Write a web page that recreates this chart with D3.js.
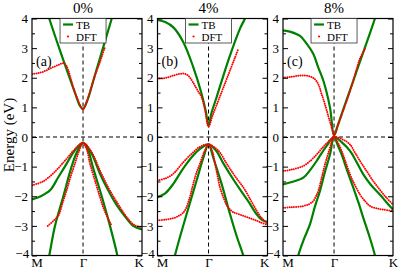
<!DOCTYPE html>
<html><head><meta charset="utf-8">
<script src="https://cdn.jsdelivr.net/npm/d3@7"></script>
<style>body{margin:0;background:#fff}svg{display:block}</style>
</head><body><svg id="c" width="399" height="269"></svg>
<script>
// path coordinate: M=0, Gamma=0.464, K=1 ; energies in eV
const kTicks = [0, 0.464, 1];
const kLabels = ["M", "\u0393", "K"];
const yTicks = [-4, -3, -2, -1, 0, 1, 2, 3, 4];
const titles = ["0%", "4%", "8%"];
const panelTags = ["(a)", "(b)", "(c)"];

// ---- panel (a) 0% ----
const tbA_c = [[0.13,4.35],[0.157,4],[0.247,3],[0.341,2],[0.39,1.5],[0.436,1.05],[0.464,0.95],[0.5,1.2],[0.565,2],[0.645,3],[0.725,4],[0.75,4.3]];
const tbA_v1 = [[0,-2.11],[0.08,-2.0],[0.164,-1.8],[0.24,-1.35],[0.315,-0.9],[0.39,-0.45],[0.464,-0.2],[0.54,-0.55],[0.618,-1.24],[0.7,-1.85],[0.77,-2.3],[0.85,-2.7],[0.92,-3.0],[1,-3.12]];
const tbA_v2 = [[0.14,-4.3],[0.157,-4],[0.209,-3],[0.285,-2],[0.36,-1],[0.41,-0.5],[0.464,-0.2],[0.51,-0.45],[0.552,-1],[0.634,-2],[0.709,-3],[0.776,-4],[0.79,-4.3]];
const dftA_c = [[0,2.13],[0.05,2.15],[0.1,2.2],[0.15,2.28],[0.2,2.37],[0.25,2.45],[0.285,2.49],[0.31,2.42],[0.33,2.25],[0.35,2.0],[0.38,1.62],[0.41,1.32],[0.44,1.05],[0.464,0.93],[0.49,1.12],[0.52,1.45],[0.55,1.8],[0.58,2.15],[0.61,2.45],[0.635,2.72],[0.66,3.0]];
const dftA_v1 = [[0,-1.63],[0.1,-1.5],[0.2,-1.2],[0.3,-0.8],[0.38,-0.45],[0.464,-0.2],[0.54,-0.5],[0.62,-1.15],[0.7,-1.75],[0.78,-2.25],[0.86,-2.7],[0.93,-2.97],[1,-3.05]];
const dftA_v2 = [[0.143,-3.0],[0.19,-2.85],[0.24,-2.65],[0.28,-2.2],[0.315,-1.8],[0.35,-1.35],[0.39,-0.9],[0.43,-0.45],[0.464,-0.2],[0.5,-0.45],[0.527,-0.9],[0.575,-1.5],[0.618,-2.03],[0.65,-2.4],[0.679,-2.65],[0.725,-3.0]];

// ---- panel (b) 4% ----
const tbB_c = [[0,3.95],[0.07,3.88],[0.144,3.7],[0.235,3.2],[0.325,2.36],[0.4,1.47],[0.44,0.85],[0.464,0.38],[0.49,0.8],[0.538,1.35],[0.644,2.59],[0.75,3.66],[0.795,4],[0.82,4.3]];
const tbB_v1 = [[0,-2.03],[0.07,-1.9],[0.144,-1.58],[0.2,-1.25],[0.265,-0.9],[0.33,-0.6],[0.386,-0.4],[0.464,-0.25],[0.53,-0.45],[0.6,-0.9],[0.675,-1.35],[0.75,-1.77],[0.83,-2.2],[0.9,-2.6],[0.95,-2.8],[1,-2.87]];
const tbB_v2 = [[0.145,-4.3],[0.159,-4],[0.21,-3.3],[0.265,-2.6],[0.356,-1.46],[0.417,-0.7],[0.464,-0.25],[0.507,-0.7],[0.584,-1.6],[0.659,-2.6],[0.72,-3.35],[0.78,-4],[0.8,-4.3]];
const dftB_c = [[0,1.97],[0.05,1.98],[0.1,2.02],[0.15,2.08],[0.2,2.13],[0.235,2.14],[0.27,2.1],[0.3,1.98],[0.33,1.8],[0.36,1.6],[0.4,1.35],[0.43,0.95],[0.464,0.35],[0.5,0.72],[0.55,1.2],[0.6,1.68],[0.65,2.16],[0.7,2.64],[0.735,2.98]];
const dftB_v1 = [[0,-1.46],[0.07,-1.4],[0.144,-1.24],[0.2,-1.0],[0.265,-0.73],[0.33,-0.5],[0.386,-0.33],[0.464,-0.25],[0.55,-0.45],[0.629,-0.9],[0.7,-1.3],[0.78,-1.7],[0.85,-2.15],[0.9,-2.48],[0.95,-2.75],[1,-2.92]];
const dftB_v2 = [[0,-2.81],[0.07,-2.79],[0.144,-2.74],[0.2,-2.65],[0.235,-2.55],[0.26,-2.4],[0.28,-2.2],[0.3,-1.95],[0.325,-1.58],[0.355,-1.2],[0.386,-0.9],[0.425,-0.5],[0.464,-0.25],[0.5,-0.5],[0.523,-0.9],[0.545,-1.3],[0.568,-1.7],[0.6,-2.05],[0.629,-2.3],[0.66,-2.45],[0.689,-2.54],[0.75,-2.62],[0.81,-2.7],[0.87,-2.78],[0.93,-2.87],[1,-2.97]];

// ---- panel (c) 8% ----
const tbC_c = [[0,3.6],[0.07,3.55],[0.155,3.41],[0.215,3.15],[0.276,2.8],[0.32,2.35],[0.367,1.9],[0.427,1.0],[0.464,0.05],[0.5,0.42],[0.564,1.1],[0.67,2.23],[0.79,3.5],[0.836,4],[0.86,4.25]];
const tbC_v1 = [[0,-1.6],[0.08,-1.52],[0.185,-1.37],[0.25,-1.1],[0.306,-0.81],[0.35,-0.55],[0.397,-0.3],[0.464,0],[0.54,-0.2],[0.609,-0.47],[0.67,-0.85],[0.73,-1.26],[0.8,-1.62],[0.88,-1.94],[0.94,-2.2],[1,-2.45]];
const tbC_v2 = [[0.125,-4.3],[0.139,-4],[0.19,-3.45],[0.245,-2.95],[0.29,-2.35],[0.336,-1.82],[0.38,-1.2],[0.427,-0.59],[0.464,0],[0.5,-0.3],[0.533,-0.59],[0.585,-1.15],[0.639,-1.71],[0.685,-2.2],[0.73,-2.73],[0.785,-3.35],[0.836,-4],[0.85,-4.3]];
const dftC_c = [[0,2.0],[0.07,2.03],[0.13,2.06],[0.185,2.08],[0.24,2.05],[0.28,1.98],[0.306,1.88],[0.33,1.7],[0.35,1.46],[0.375,1.18],[0.397,0.9],[0.42,0.6],[0.442,0.33],[0.464,0.05],[0.5,0.4],[0.548,0.9],[0.6,1.45],[0.639,1.9],[0.67,2.3],[0.7,2.65],[0.745,2.98]];
const dftC_v1 = [[0,-1.15],[0.08,-1.1],[0.185,-0.98],[0.25,-0.8],[0.306,-0.59],[0.35,-0.4],[0.4,-0.2],[0.464,0],[0.54,-0.08],[0.609,-0.25],[0.65,-0.5],[0.7,-0.81],[0.76,-1.15],[0.82,-1.49],[0.88,-1.78],[0.94,-2.05],[1,-2.28]];
const dftC_v2 = [[0,-2.39],[0.08,-2.37],[0.185,-2.33],[0.24,-2.26],[0.276,-2.16],[0.3,-2.0],[0.321,-1.82],[0.35,-1.4],[0.382,-0.92],[0.42,-0.45],[0.464,0],[0.5,-0.2],[0.533,-0.47],[0.57,-0.85],[0.609,-1.26],[0.65,-1.6],[0.7,-1.94],[0.75,-2.18],[0.79,-2.33],[0.85,-2.41],[0.91,-2.45],[1,-2.5]];

const panels = [
  {tb:[tbA_c,tbA_v1,tbA_v2], dft:[dftA_c,dftA_v1,dftA_v2]},
  {tb:[tbB_c,tbB_v1,tbB_v2], dft:[dftB_c,dftB_v1,dftB_v2]},
  {tb:[tbC_c,tbC_v1,tbC_v2], dft:[dftC_c,dftC_v1,dftC_v2]}
];

const svg = d3.select("#c");
const FONT = "Liberation Serif";
const lefts = [32, 157.5, 283], pw = 110, yTop = 18.5, yBot = 255.5;
const GREEN = "#008000", RED = "#ff0000";
const y = d3.scaleLinear().domain([-4, 4]).range([yBot, yTop]);

svg.append("text").attr("transform", `translate(14,${(yTop+yBot)/2 - 2}) rotate(-90)`)
  .attr("text-anchor","middle").attr("font-size",15).attr("font-family", FONT).text("Energy (eV)");

panels.forEach((p, i) => {
  const L = lefts[i];
  const x = d3.scaleLinear().domain([0, 1]).range([L, L + pw]);
  const g = svg.append("g");
  const cid = "clip" + i;
  svg.append("clipPath").attr("id", cid).append("rect").attr("x", L).attr("y", yTop).attr("width", pw).attr("height", yBot - yTop);
  const line = d3.line().x(d => x(d[0])).y(d => y(d[1])).curve(d3.curveCatmullRom.alpha(0.5));
  g.append("line").attr("x1", L).attr("x2", L + pw).attr("y1", y(0)).attr("y2", y(0))
    .attr("stroke", "#000").attr("stroke-dasharray", "4,3");
  g.append("line").attr("x1", x(kTicks[1])).attr("x2", x(kTicks[1])).attr("y1", yTop).attr("y2", yBot)
    .attr("stroke", "#000").attr("stroke-dasharray", "4,3");
  const data = g.append("g").attr("clip-path", `url(#${cid})`);
  p.tb.forEach(b => data.append("path").attr("d", line(b)).attr("fill", "none").attr("stroke", GREEN).attr("stroke-width", 2.2));
  p.dft.forEach(b => data.append("path").attr("d", line(b)).attr("fill", "none").attr("stroke", RED)
    .attr("stroke-width", 2).attr("stroke-linecap", "round").attr("stroke-dasharray", "0,2.2"));
  const ax = g.append("g").attr("transform", `translate(${L},0)`)
    .call(d3.axisLeft(y).tickValues(yTicks).tickSize(-5).tickPadding(4).tickFormat(d3.format("d")));
  ax.select(".domain").remove();
  ax.selectAll("text").attr("font-size", 13).attr("font-family", FONT).attr("fill", "#000")
    .attr("dy", d => d === -4 ? "0.15em" : "0.32em").attr("dx", d => d === -4 ? 1.2 : 0);
  const axm = g.append("g").attr("transform", `translate(${L},0)`)
    .call(d3.axisLeft(y).tickValues(d3.range(-3.5, 4, 1)).tickSize(-3).tickFormat(""));
  axm.select(".domain").remove();
  const axr = g.append("g").attr("transform", `translate(${L+pw},0)`)
    .call(d3.axisRight(y).tickValues(yTicks).tickSize(-5).tickFormat(""));
  axr.select(".domain").remove();
  const axrm = g.append("g").attr("transform", `translate(${L+pw},0)`)
    .call(d3.axisRight(y).tickValues(d3.range(-3.5, 4, 1)).tickSize(-3).tickFormat(""));
  axrm.select(".domain").remove();
  const axb = g.append("g").attr("transform", `translate(0,${yBot})`)
    .call(d3.axisBottom(x).tickValues(kTicks).tickSize(0).tickPadding(2).tickFormat((d, j) => kLabels[j]));
  axb.select(".domain").remove();
  axb.selectAll("text").attr("font-size", 13).attr("font-family", FONT).attr("fill", "#000")
    .attr("dx", (d, j) => j === 0 ? 4.5 : (j === 2 && i < 2 ? -3.2 : 0));
  g.append("rect").attr("x", L).attr("y", yTop).attr("width", pw).attr("height", yBot - yTop)
    .attr("fill", "none").attr("stroke", "#000").attr("stroke-width", 1.2);
  g.append("text").attr("x", x(kTicks[1])).attr("y", 13).attr("text-anchor", "middle")
    .attr("font-size", 15).attr("font-family", FONT).text(titles[i]);
  g.append("text").attr("x", L + 4).attr("y", 66).attr("font-size", 14).attr("font-family", FONT).text(panelTags[i]);
  const lx = x(kTicks[1]) - 23;
  const lg = g.append("g");
  lg.append("rect").attr("x", lx).attr("y", yTop).attr("width", 46).attr("height", 24.5)
    .attr("fill", "#fff").attr("stroke", "#333").attr("stroke-width", 0.8);
  lg.append("line").attr("x1", lx + 3).attr("x2", lx + 13).attr("y1", yTop + 6).attr("y2", yTop + 6)
    .attr("stroke", GREEN).attr("stroke-width", 2.2);
  lg.append("circle").attr("cx", lx + 8).attr("cy", yTop + 18).attr("r", 1.1).attr("fill", RED);
  lg.append("text").attr("x", lx + 16).attr("y", yTop + 10).attr("font-size", 11).attr("font-family", FONT).text("TB");
  lg.append("text").attr("x", lx + 16).attr("y", yTop + 22).attr("font-size", 11).attr("font-family", FONT).text("DFT");
});
</script></body></html>
